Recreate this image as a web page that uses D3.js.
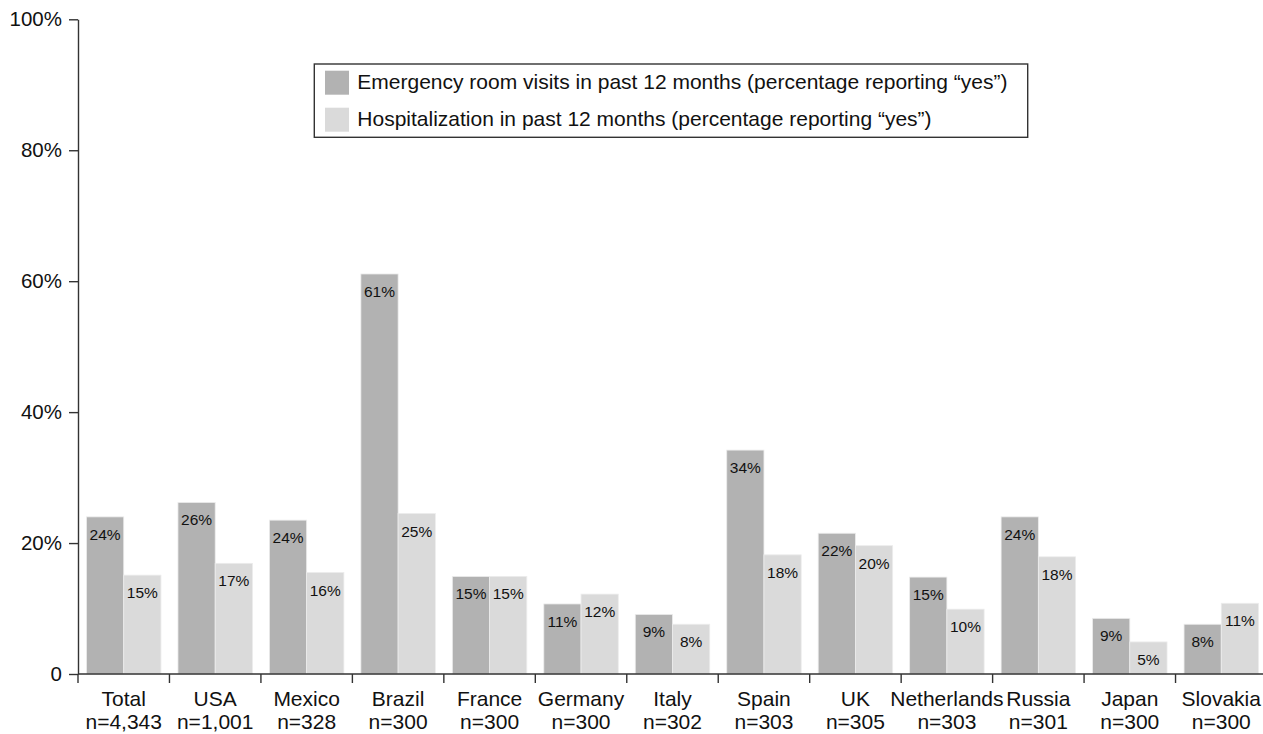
<!DOCTYPE html>
<html>
<head>
<meta charset="utf-8">
<script src="https://cdn.jsdelivr.net/npm/d3@7/dist/d3.min.js"></script>
<style>
  html, body { margin: 0; padding: 0; background: #fff; }
  svg { display: block; font-family: "Liberation Sans", Arial, sans-serif; }
</style>
</head>
<body>
<div id="chart"></div>
<script>
// categories and sample sizes along the x axis
const countries = ["Total", "USA", "Mexico", "Brazil", "France", "Germany", "Italy",
  "Spain", "UK", "Netherlands", "Russia", "Japan", "Slovakia"];
const sampleSizes = ["n=4,343", "n=1,001", "n=328", "n=300", "n=300", "n=300", "n=302",
  "n=303", "n=305", "n=303", "n=301", "n=300", "n=300"];

// percentages
const erVisits = [24.0, 26.2, 23.5, 61.1, 14.9, 10.7, 9.1, 34.2, 21.5, 14.8, 24.0, 8.5, 7.6];
const hospitalization = [15.1, 16.9, 15.5, 24.5, 14.9, 12.2, 7.6, 18.2, 19.6, 9.9, 17.9, 4.9, 10.8];

const seriesNames = [
  "Emergency room visits in past 12 months (percentage reporting \u201cyes\u201d)",
  "Hospitalization in past 12 months (percentage reporting \u201cyes\u201d)"
];
const seriesKeys = ["er", "hosp"];
const yTicks = [0, 20, 40, 60, 80, 100];

const colors = { er: "#b2b2b2", hosp: "#dadada" };
const axisColor = "#333";

const width = 1263, height = 734;
const plotLeft = 78, plotRight = 1267, plotTop = 19.3, plotBottom = 674;

const data = countries.map((c, i) => ({
  country: c, n: sampleSizes[i], er: erVisits[i], hosp: hospitalization[i]
}));

const svg = d3.select("#chart").append("svg")
  .attr("width", width).attr("height", height);

const x = d3.scaleBand().domain(countries).range([plotLeft, plotRight]).padding(0);
const x1 = d3.scaleBand().domain(seriesKeys).range([8.5, x.bandwidth() - 8.5]).padding(0);
const y = d3.scaleLinear().domain([0, 100]).range([plotBottom, plotTop]);

// bars
const groups = svg.append("g").selectAll("g")
  .data(data)
  .join("g")
  .attr("transform", d => `translate(${x(d.country)},0)`);

groups.selectAll("rect")
  .data(d => seriesKeys.map(k => ({ key: k, value: d[k] })))
  .join("rect")
  .attr("x", d => x1(d.key))
  .attr("y", d => y(d.value))
  .attr("width", x1.bandwidth())
  .attr("height", d => y(0) - y(d.value))
  .attr("fill", d => colors[d.key])
  .attr("stroke", "#ececec")
  .attr("stroke-width", 0.8);

groups.selectAll("text.value")
  .data(d => seriesKeys.map(k => ({ key: k, value: d[k] })))
  .join("text")
  .attr("class", "value")
  .attr("x", d => x1(d.key) + x1.bandwidth() / 2)
  .attr("y", d => y(d.value) + 23)
  .attr("text-anchor", "middle")
  .style("font-size", "15.5px")
  .style("fill", "#111")
  .text(d => Math.round(d.value) + "%");

// y axis
const yAxis = svg.append("g")
  .attr("transform", `translate(${plotLeft},0)`)
  .call(d3.axisLeft(y).tickValues(yTicks).tickSize(9).tickSizeOuter(0).tickPadding(7)
    .tickFormat(d => d === 0 ? "0" : d + "%"));
yAxis.select(".domain").attr("stroke", axisColor).attr("stroke-width", 1.4);
yAxis.selectAll(".tick line").attr("stroke", axisColor).attr("stroke-width", 1.4);
yAxis.selectAll(".tick text").style("font-size", "20.5px").style("fill", "#111")
  .style("font-family", "'Liberation Sans', Arial, sans-serif");

// x axis: baseline, boundary ticks, two-line labels
const xAxis = svg.append("g");
xAxis.append("line")
  .attr("x1", plotLeft).attr("x2", width)
  .attr("y1", y(0)).attr("y2", y(0))
  .attr("stroke", axisColor).attr("stroke-width", 1.4);

xAxis.selectAll("line.tick")
  .data(countries)
  .join("line")
  .attr("class", "tick")
  .attr("x1", d => x(d)).attr("x2", d => x(d))
  .attr("y1", y(0)).attr("y2", y(0) + 9)
  .attr("stroke", axisColor).attr("stroke-width", 1.4);

const xLabels = xAxis.selectAll("text.label")
  .data(data)
  .join("text")
  .attr("class", "label")
  .attr("text-anchor", "middle")
  .style("font-size", "21px")
  .style("fill", "#111");
xLabels.append("tspan")
  .attr("x", d => x(d.country) + x.bandwidth() / 2)
  .attr("y", y(0) + 31.5)
  .text(d => d.country);
xLabels.append("tspan")
  .attr("x", d => x(d.country) + x.bandwidth() / 2)
  .attr("y", y(0) + 55)
  .text(d => d.n);

// legend
const legend = svg.append("g").attr("transform", "translate(314.3,64)");
legend.append("rect")
  .attr("width", 713.4).attr("height", 73.3)
  .attr("fill", "#fff").attr("stroke", axisColor).attr("stroke-width", 1.4);

const items = legend.selectAll("g.item")
  .data(seriesKeys)
  .join("g")
  .attr("class", "item")
  .attr("transform", (d, i) => `translate(10.7,${6.7 + i * 37})`);
items.append("rect")
  .attr("width", 24).attr("height", 24)
  .attr("fill", d => colors[d]);
items.append("text")
  .attr("x", 32.3).attr("y", 18.6)
  .style("font-size", "21px")
  .style("fill", "#111")
  .text((d, i) => seriesNames[i]);
</script>
</body>
</html>
